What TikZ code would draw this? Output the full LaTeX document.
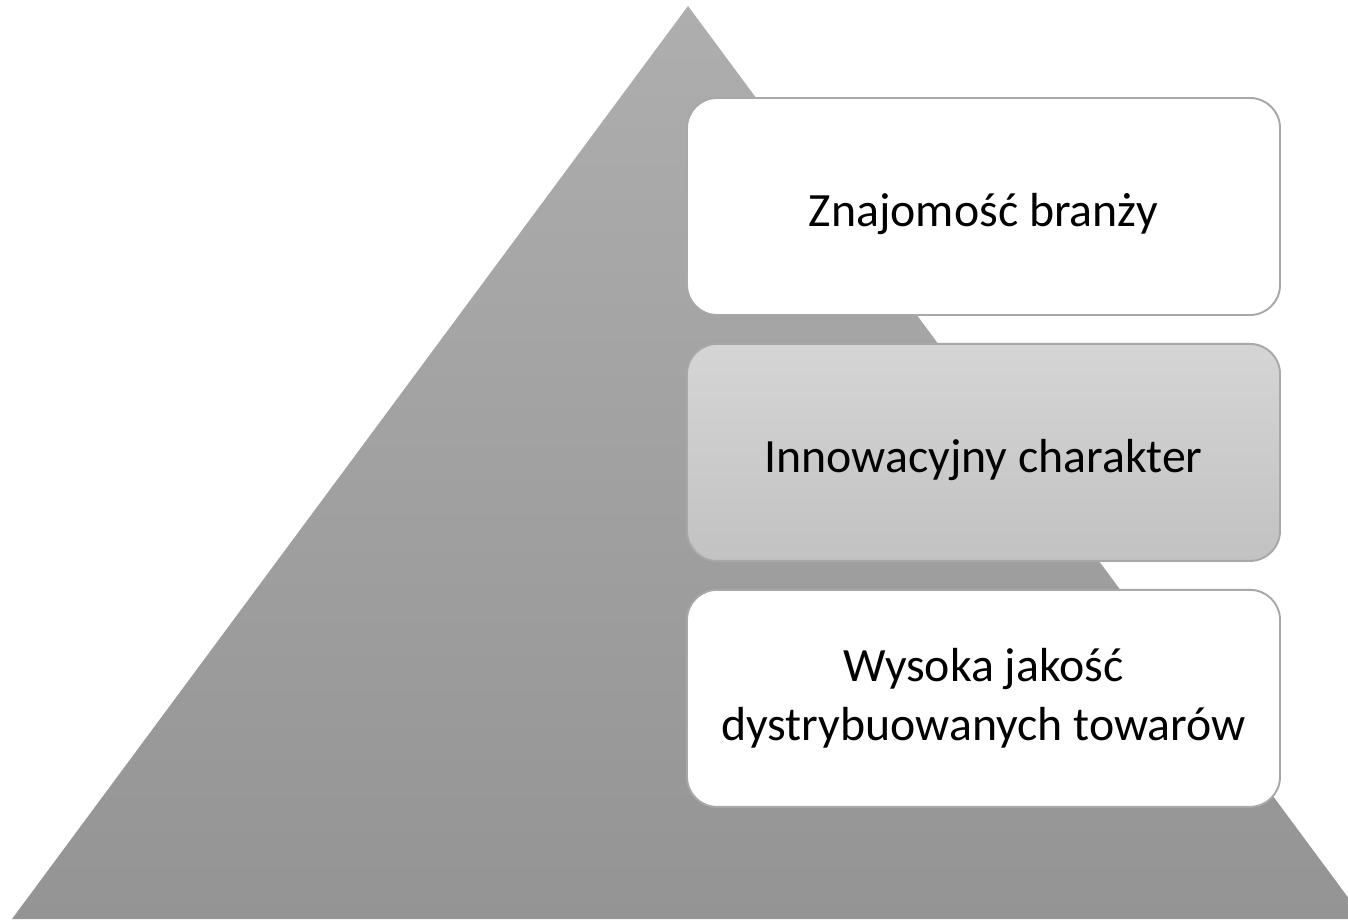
\documentclass[tikz,border=0pt]{standalone}
\usepackage{fontspec}
\setmainfont{Carlito}
\usetikzlibrary{positioning}
\definecolor{pyrtop}{HTML}{AEAEAE}
\definecolor{pyrbot}{HTML}{949494}
\definecolor{edgegray}{HTML}{A8A8A8}
\definecolor{midtop}{HTML}{D5D5D5}
\definecolor{midbot}{HTML}{C2C2C2}
\begin{document}
\begin{tikzpicture}[scale=1.0,transform shape]
      \tikzstyle{levelbox}=[rectangle, rounded corners=0.6cm, draw=edgegray, line width=1.1pt, fill=white,
        minimum width=11.86cm, minimum height=4.34cm, align=center, font=\fontsize{27.2}{34}\selectfont, text=black]
      \tikzstyle{oneline}=[text height=1.15cm, text depth=0.36cm]
      \useasboundingbox (0,0) rectangle (26.96,18.38);
      \clip (0,0) rectangle (26.96,18.38);
      % pyramid behind the boxes
      \coordinate (apex) at (13.76,18.26);
      \coordinate (baseL) at (0.24,0);
      \coordinate (baseR) at (27.28,0);
      \shade[top color=pyrtop, bottom color=pyrbot] (apex) -- (baseR) -- (baseL) -- cycle;
      \node[levelbox, oneline] (top) at (19.67,14.25) {Znajomość branży};
      \node[levelbox, oneline, below = 0.54cm of top, top color=midtop, bottom color=midbot] (mid) {Innowacyjny charakter};
      \node[levelbox, below = 0.54cm of mid] (bot) {Wysoka jakość\\dystrybuowanych towarów};
\end{tikzpicture}
\end{document}
